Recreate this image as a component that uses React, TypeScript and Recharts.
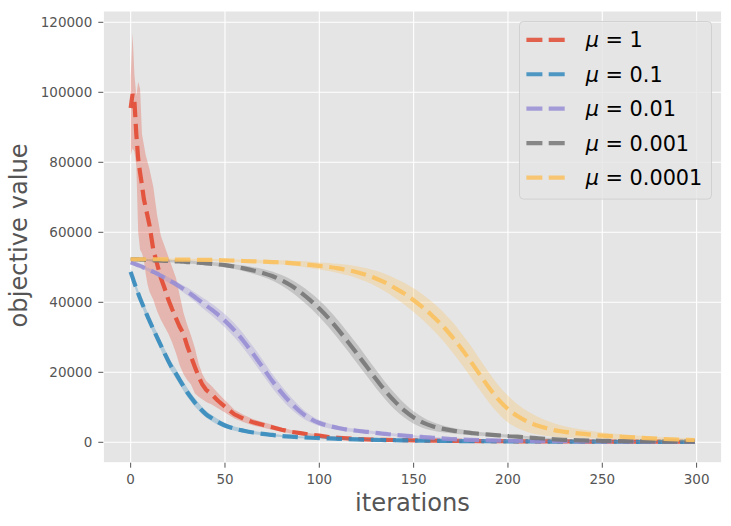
import React from 'react';
import { ComposedChart, Line, Area, XAxis, YAxis, CartesianGrid, Legend, Label } from 'recharts';

// iteration grid (x values)
const iterations = [
  0, 1, 2, 3, 4, 5, 6, 7, 8, 9, 10,
  12, 14, 16, 18, 20, 22, 24, 26, 28, 30, 32, 34, 36, 38, 40,
  43, 46,
  50, 55, 60, 65, 70, 75, 80, 85, 90, 95, 100, 105, 110, 115, 120, 125, 130, 135, 140, 145, 150, 155, 160, 165, 170, 175, 180, 185, 190, 195, 200, 205, 210, 215, 220, 225, 230,
  240, 250, 260, 270, 280, 290,
  299,
];

// mu = 1 (noisy)
const redMean = [
  95500, 99500, 97500, 88000, 81000, 77000, 73500, 69500, 67000, 64500, 62000,
  55000, 51000, 47000, 44000, 40700, 38000, 35500, 33000, 31000, 27500, 24500, 21600, 18800, 16500, 15000,
  13700, 12000,
  10200, 8000, 6700, 5700, 5000, 4300, 3600, 3000, 2600, 2200, 1900, 1500, 1300, 1100, 950, 850, 750, 700, 650, 600, 550, 500, 480, 450, 420, 400, 380, 360, 340, 320, 300, 290, 280, 270, 260, 250, 240,
  220, 200, 190, 180, 170, 160,
  150,
];
const redLow = [
  82000, 84000, 83000, 79000, 60000, 55000, 54000, 52000, 48000, 45000, 43000,
  40700, 37500, 35000, 33000, 31000, 28500, 25500, 22000, 19500, 17800, 16500, 14000, 13000, 12300, 11500,
  10800, 9800,
  8500, 6800, 5700, 4800, 4200, 3600, 3000, 2500, 2100, 1800, 1500, 1200, 1000, 850, 700, 600, 520, 480, 440, 400, 370, 340, 320, 300, 280, 260, 250, 240, 230, 220, 200, 190, 180, 175, 170, 160, 150,
  140, 130, 120, 110, 100, 90,
  80,
];
const redHigh = [
  104000, 117000, 105000, 99000, 103000, 101000, 88000, 85000, 82000, 80000, 78000,
  73000, 65000, 59000, 56000, 53000, 50000, 47000, 42000, 37000, 33500, 30500, 27000, 22500, 19500, 17500,
  16000, 14200,
  12000, 9300, 7800, 6600, 5800, 5000, 4200, 3500, 3100, 2600, 2300, 1800, 1600, 1350, 1200, 1100, 980, 920, 860, 800, 730, 660, 640, 600, 560, 540, 510, 480, 450, 420, 400, 390, 380, 365, 350, 340, 330,
  300, 270, 260, 250, 240, 230,
  220,
];

// mu = 0.1
const blueMean = [
  48700, 47100, 45500, 44000, 42500, 41100, 39800, 38500, 37200, 35900, 34700,
  32300, 30000, 27700, 25400, 23200, 21200, 19600, 17800, 16000, 14300, 12800, 11400, 10200, 9000, 8000,
  6900, 5900,
  4800, 3900, 3300, 2800, 2400, 2100, 1800, 1600, 1450, 1300, 1200, 1100, 1000, 900, 820, 750, 690, 640, 590, 550, 510, 470, 440, 410, 380, 360, 340, 320, 300, 285, 270, 255, 240, 230, 220, 210, 200,
  180, 165, 150, 140, 130, 120,
  110,
];
const blueSpread = [
  800, 850, 900, 950, 1000, 1050, 1100, 1100, 1150, 1200, 1200,
  1250, 1300, 1300, 1350, 1350, 1350, 1350, 1300, 1300, 1250, 1200, 1150, 1100, 1000, 950,
  900, 800,
  700, 600, 500, 450, 400, 350, 320, 300, 280, 260, 240, 220, 200, 190, 180, 170, 160, 155, 150, 145, 140, 135, 130, 125, 120, 115, 110, 105, 100, 95, 90, 88, 86, 84, 82, 80, 79,
  78, 74, 70, 66, 62, 60,
  58,
];

// mu = 0.01
const purpleMean = [
  51400, 51200, 51000, 50800, 50600, 50400, 50200, 49900, 49700, 49400, 49200,
  48700, 48200, 47600, 47000, 46400, 45800, 45200, 44500, 43800, 43100, 42300, 41500, 40700, 39900, 39100,
  37900, 36600,
  34700, 32000, 28800, 25200, 21400, 17600, 14200, 11200, 8700, 6800, 5500, 4700, 4100, 3600, 3300, 3000, 2700, 2400, 2100, 1900, 1700, 1500, 1300, 1100, 950, 800, 700, 620, 560, 500, 460, 420, 390, 360, 340, 320, 300,
  270, 250, 230, 210, 200, 190,
  180,
];
const purpleSpread = [
  300, 320, 340, 360, 380, 400, 420, 440, 460, 480, 500,
  550, 600, 650, 700, 750, 800, 850, 900, 1000, 1100, 1200, 1300, 1400, 1500, 1600,
  1700, 1800,
  1900, 2000, 2100, 2100, 2100, 2000, 1900, 1700, 1400, 1100, 850, 700, 600, 550, 500, 450, 420, 400, 380, 360, 340, 320, 310, 300, 290, 280, 270, 260, 250, 240, 230, 220, 210, 200, 190, 180, 170,
  160, 150, 140, 130, 120, 110,
  100,
];

// mu = 0.001
const grayMean = [
  52300, 52300, 52300, 52250, 52250, 52200, 52200, 52150, 52100, 52100, 52050,
  52000, 51950, 51900, 51850, 51800, 51750, 51700, 51650, 51600, 51500, 51450, 51400, 51300, 51250, 51100,
  51000, 50850,
  50600, 50200, 49700, 49100, 48400, 47500, 46300, 44800, 42900, 40700, 38200, 35400, 32200, 28800, 25300, 21700, 18100, 14700, 11700, 9100, 7100, 5600, 4600, 3900, 3400, 3000, 2700, 2400, 2200, 2000, 1800, 1600, 1400, 1200, 1000, 850, 720,
  550, 420, 330, 260, 220, 190,
  170,
];
const graySpread = [
  300, 300, 300, 300, 300, 300, 300, 300, 300, 300, 300,
  320, 330, 340, 350, 360, 370, 380, 390, 400, 410, 420, 430, 440, 450, 460,
  480, 520,
  600, 700, 800, 950, 1100, 1300, 1500, 1750, 2000, 2200, 2400, 2500, 2600, 2650, 2700, 2650, 2600, 2450, 2300, 2050, 1800, 1500, 1200, 1000, 800, 700, 600, 550, 500, 470, 450, 420, 390, 350, 320, 300, 280,
  250, 220, 200, 180, 170, 160,
  150,
];

// mu = 0.0001
const yellowMean = [
  52300, 52300, 52300, 52300, 52300, 52300, 52300, 52300, 52300, 52300, 52300,
  52300, 52300, 52300, 52250, 52250, 52250, 52200, 52200, 52200, 52200, 52150, 52150, 52150, 52100, 52100,
  52100, 52050,
  52000, 51900, 51800, 51700, 51600, 51500, 51400, 51200, 51000, 50700, 50400, 50100, 49700, 49200, 48600, 47800, 46800, 45600, 44100, 42500, 40600, 38500, 36100, 33500, 30400, 27000, 23300, 19400, 15600, 12200, 9500, 7500, 6000, 4900, 4100, 3400, 3000,
  2400, 1900, 1600, 1300, 1000, 800,
  650,
];
const yellowSpread = [
  300, 300, 300, 300, 300, 300, 300, 300, 300, 300, 300,
  300, 300, 300, 300, 300, 300, 300, 300, 300, 300, 300, 300, 300, 300, 300,
  300, 300,
  300, 350, 400, 450, 500, 550, 600, 700, 800, 900, 1000, 1150, 1300, 1500, 1700, 1950, 2200, 2500, 2800, 3100, 3400, 3650, 3900, 4100, 4300, 4400, 4500, 4400, 4300, 4050, 3800, 3400, 3000, 2600, 2200, 1900, 1600,
  1200, 900, 700, 600, 500, 450,
  400,
];

const muLabels = ['1', '0.1', '0.01', '0.001', '0.0001'];
const seriesKeys = ['red', 'blue', 'purple', 'gray', 'yellow'];
const seriesColors = ['#E24A33', '#348ABD', '#988ED5', '#777777', '#FBC15E'];
const xTicks = [0, 50, 100, 150, 200, 250, 300];
const yTicks = [0, 20000, 40000, 60000, 80000, 100000, 120000];

const table = iterations.map((it, i) => ({
  it,
  red: redMean[i],
  redBand: [redLow[i], redHigh[i]],
  blue: blueMean[i],
  blueBand: [blueMean[i] - blueSpread[i], blueMean[i] + blueSpread[i]],
  purple: purpleMean[i],
  purpleBand: [purpleMean[i] - purpleSpread[i], purpleMean[i] + purpleSpread[i]],
  gray: grayMean[i],
  grayBand: [grayMean[i] - graySpread[i], grayMean[i] + graySpread[i]],
  yellow: yellowMean[i],
  yellowBand: [yellowMean[i] - yellowSpread[i], yellowMean[i] + yellowSpread[i]],
}));

const FONT = "'DejaVu Sans', sans-serif";

const LegendBox = () => (
  <svg width={194} height={180} style={{ display: 'block', overflow: 'visible' }}>
    <rect x={0.5} y={0.5} width={192} height={177.6} rx={4} ry={4}
      fill="rgba(229,229,229,0.8)" stroke="rgba(204,204,204,0.8)" strokeWidth={1} />
    {seriesKeys.map((k, i) => {
      const cy = 18.8 + i * 34.45;
      return (
        <g key={k}>
          <line x1={7.4} x2={45.7} y1={cy} y2={cy} stroke={seriesColors[i]} strokeWidth={4.2}
            strokeDasharray="16 6.3" strokeOpacity={0.85} />
          <text x={66.7} y={cy + 7.5} fontSize={20.8} fill="#000" fontFamily={FONT}>
            <tspan fontStyle="italic">μ</tspan>
            <tspan>{' = ' + muLabels[i]}</tspan>
          </text>
        </g>
      );
    })}
  </svg>
);

const XLabel = (props: any) => {
  const vb = props.viewBox || {};
  const cx = vb.width ? vb.x + vb.width / 2 : 412.5;
  return (
    <text x={cx} y={510.7} textAnchor="middle" fontSize={24.2} fill="#555555" fontFamily={FONT}>
      iterations
    </text>
  );
};

const YLabel = (props: any) => {
  const vb = props.viewBox || {};
  const cy = vb.height ? vb.y + vb.height / 2 - 1.5 : 235;
  return (
    <text transform={`translate(27.3, ${cy}) rotate(-90)`} textAnchor="middle" fontSize={24.2}
      fill="#555555" fontFamily={FONT}>
      objective value
    </text>
  );
};

export default function App() {
  return (
    <div style={{ position: 'absolute', left: 0, top: 0, width: 731, height: 526, background: '#ffffff', fontFamily: FONT }}>
      <ComposedChart width={731} height={526} data={table}
        margin={{ top: 11, right: 9.3, bottom: 0, left: 0 }}>
        <CartesianGrid fill="#E5E5E5" stroke="#FFFFFF" strokeWidth={1.1} />
        <XAxis type="number" dataKey="it" domain={[-14.5, 313.3]} ticks={xTicks} interval={0}
          allowDataOverflow axisLine={false} tickLine={{ stroke: '#555555' }} tickSize={5}
          tickMargin={6.3} tick={{ fill: '#555555', fontSize: 13.5, fontFamily: FONT }} height={63.3}>
          <Label content={XLabel} />
        </XAxis>
        <YAxis type="number" domain={[-5829, 123229]} ticks={yTicks} interval={0}
          allowDataOverflow axisLine={false} tickLine={{ stroke: '#555555' }} tickSize={5}
          tickMargin={6} tick={{ fill: '#555555', fontSize: 13.5, fontFamily: FONT }} width={103.3}>
          <Label content={YLabel} />
        </YAxis>

        <Area dataKey="redBand" type="linear" fill="#E24A33" fillOpacity={0.3} stroke="none"
          isAnimationActive={false} legendType="none" dot={false} activeDot={false} zIndex={101} />
        <Line dataKey="red" type="linear" stroke="#E24A33" strokeOpacity={0.9} strokeWidth={4.2}
          strokeDasharray="15.4 6.7" dot={false} activeDot={false} isAnimationActive={false} zIndex={102} />

        <Area dataKey="blueBand" type="monotone" fill="#348ABD" fillOpacity={0.3} stroke="none"
          isAnimationActive={false} legendType="none" dot={false} activeDot={false} zIndex={103} />
        <Line dataKey="blue" type="monotone" stroke="#348ABD" strokeOpacity={0.9} strokeWidth={4.2}
          strokeDasharray="15.4 6.7" dot={false} activeDot={false} isAnimationActive={false} zIndex={104} />

        <Area dataKey="purpleBand" type="monotone" fill="#988ED5" fillOpacity={0.3} stroke="none"
          isAnimationActive={false} legendType="none" dot={false} activeDot={false} zIndex={105} />
        <Line dataKey="purple" type="monotone" stroke="#988ED5" strokeOpacity={0.9} strokeWidth={4.2}
          strokeDasharray="15.4 6.7" dot={false} activeDot={false} isAnimationActive={false} zIndex={106} />

        <Area dataKey="grayBand" type="monotone" fill="#777777" fillOpacity={0.3} stroke="none"
          isAnimationActive={false} legendType="none" dot={false} activeDot={false} zIndex={107} />
        <Line dataKey="gray" type="monotone" stroke="#777777" strokeOpacity={0.9} strokeWidth={4.2}
          strokeDasharray="15.4 6.7" dot={false} activeDot={false} isAnimationActive={false} zIndex={108} />

        <Area dataKey="yellowBand" type="monotone" fill="#FBC15E" fillOpacity={0.3} stroke="none"
          isAnimationActive={false} legendType="none" dot={false} activeDot={false} zIndex={109} />
        <Line dataKey="yellow" type="monotone" stroke="#FBC15E" strokeOpacity={0.9} strokeWidth={4.2}
          strokeDasharray="15.4 6.7" dot={false} activeDot={false} isAnimationActive={false} zIndex={110} />

        <Legend layout="vertical" verticalAlign="middle" align="center"
          wrapperStyle={{ left: 519.3, top: 20.7, width: 194, height: 180, margin: 0 }}
          content={() => <LegendBox />} />
      </ComposedChart>
    </div>
  );
}
